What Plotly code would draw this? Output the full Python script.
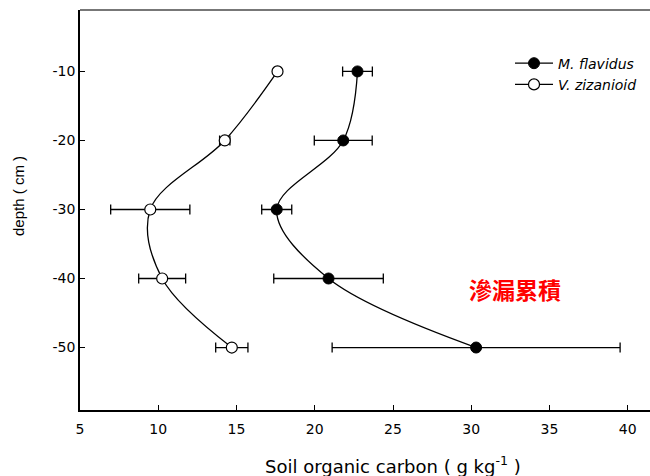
import plotly.graph_objects as go

depth = [-10, -20, -30, -40, -50]
mf_soc = [22.73, 21.82, 17.57, 20.88, 30.31]
mf_err = [0.95, 1.85, 0.96, 3.5, 9.2]
vz_soc = [17.62, 14.25, 9.49, 10.25, 14.70]
vz_err = [0.15, 0.33, 2.53, 1.5, 1.03]
x_ticks = [5, 10, 15, 20, 25, 30, 35, 40]
y_ticks = [-10, -20, -30, -40, -50]
y_ticktext = ["-10", "-20", "-30", "-40", "-50"]

fig = go.Figure()
fig.add_trace(go.Scatter(
    x=mf_soc, y=depth, mode="lines+markers", name="M. flavidus",
    line=dict(color="black", width=1.3, shape="spline", smoothing=1.0),
    marker=dict(symbol="circle", size=11, color="black", line=dict(color="black", width=1)),
    error_x=dict(type="data", array=mf_err, color="black", thickness=1.3, width=5),
))
fig.add_trace(go.Scatter(
    x=vz_soc, y=depth, mode="lines+markers", name="V. zizanioid",
    line=dict(color="black", width=1.3, shape="spline", smoothing=1.0),
    marker=dict(symbol="circle", size=11, color="white", line=dict(color="black", width=1.2)),
    error_x=dict(type="data", array=vz_err, color="black", thickness=1.3, width=5),
))

fig.add_annotation(
    x=32.8, y=-41.5, xref="x", yref="y", text="<b>滲漏累積</b>", showarrow=False,
    font=dict(family="Noto Sans CJK TC", size=23, color="red"),
)
# axis titles
fig.add_annotation(
    x=0.549, y=-0.1375, xref="paper", yref="paper", xanchor="center", yanchor="middle",
    text="Soil organic carbon ( g kg<sup>-1</sup> )", showarrow=False,
    font=dict(family="DejaVu Sans", size=18, color="black"),
)
fig.add_annotation(
    x=-0.1088, y=0.535, xref="paper", yref="paper", xanchor="center", yanchor="middle",
    text="depth ( cm )", textangle=-90, showarrow=False,
    font=dict(family="Liberation Sans, Arial", size=15, color="black"),
)
fig.add_shape(type="line", xref="paper", yref="paper", x0=0, x1=1, y0=1, y1=1,
              line=dict(color="#777777", width=2))

fig.update_layout(
    width=650, height=476,
    margin=dict(l=80, r=0, t=10, b=66),
    paper_bgcolor="white", plot_bgcolor="white",
    font=dict(family="DejaVu Sans", color="black", size=14),
    showlegend=True,
    legend=dict(x=0.7544, y=0.906, xanchor="left", yanchor="top",
                bgcolor="rgba(0,0,0,0)", font=dict(size=14, style="italic"),
                itemwidth=38, tracegroupgap=0),
    xaxis=dict(range=[5, 41.42], tickvals=x_ticks, ticks="inside", ticklen=5,
               tickcolor="black", showline=True, linecolor="black", linewidth=1.5,
               showgrid=False, zeroline=False, ticklabelstandoff=5),
    yaxis=dict(range=[-59.05, -1.1], tickvals=y_ticks, ticktext=y_ticktext,
               ticks="inside", ticklen=5,
               tickcolor="black", showline=True, linecolor="black", linewidth=1.5,
               showgrid=False, zeroline=False),
)

fig.write_html("out.html", config={"displayModeBar": False},
               post_script="document.body.style.margin='0';document.body.style.padding='0';")
